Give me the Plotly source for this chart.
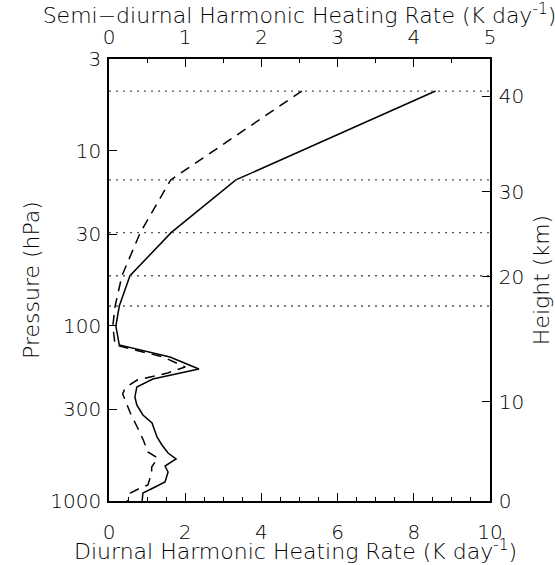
import numpy as np
import plotly.graph_objects as go

# ---------------- data ----------------
# Diurnal harmonic heating rate (K/day), bottom axis
p_diurnal = [4.57, 14.7, 29.4, 51.8, 77.1, 100.3, 128.7, 150.7, 176.4, 201.2, 223.5,
             254.8, 283.1, 322.9, 358.6, 431.1, 478.9, 532.1, 575.8, 631.3, 683.0,
             778.9, 831.8, 900.2, 1000.0]
diurnal = [8.57, 3.33, 1.63, 0.55, 0.27, 0.18, 0.27, 1.60, 2.36, 1.15, 0.73,
           0.68, 0.73, 0.89, 1.13, 1.26, 1.39, 1.55, 1.76, 1.47, 1.55,
           1.47, 1.21, 0.89, 0.87]

# Semi-diurnal harmonic heating rate (K/day), top axis
p_semi = [4.57, 14.7, 29.4, 51.8, 77.1, 100.3, 128.7, 150.7, 171.9, 185.9, 203.9,
          226.4, 245.1, 286.9, 314.5, 378.1, 448.5, 525.2, 568.4, 639.6, 692.1,
          810.3, 842.8, 900.2, 960.9, 1000.0]
semi = [2.53, 0.81, 0.41, 0.17, 0.08, 0.05, 0.08, 0.71, 1.00, 0.77, 0.37,
        0.21, 0.18, 0.24, 0.28, 0.37, 0.45, 0.51, 0.64, 0.56, 0.56,
        0.51, 0.41, 0.28, 0.25, 0.24]

# Reference levels (dotted lines), hPa
ref_levels = [4.57, 14.7, 29.4, 51.8, 77.1]

# Axis ticks
pressure_ticks = [3, 10, 30, 100, 300, 1000]
height_tick_pressures = [1000, 272, 52.6, 17.2, 4.88]
height_tick_labels = ["0", "10", "20", "30", "40"]
bottom_ticks = [0, 2, 4, 6, 8, 10]
top_ticks = [0, 1, 2, 3, 4, 5]

# ---------------- figure ----------------
FONT = "DejaVu Sans"
TXT = "#000000"
tickfont = dict(family=FONT, size=20, color=TXT, weight=200)
titlefont = dict(family=FONT, size=22, color=TXT, weight=200)

fig = go.Figure()

for p in ref_levels:
    fig.add_trace(go.Scatter(x=[0, 10], y=[p, p], mode="lines",
                             line=dict(color="#555555", width=1.3, dash="2px,5px"),
                             xaxis="x", yaxis="y2", showlegend=False, hoverinfo="skip"))

fig.add_trace(go.Scatter(x=diurnal, y=p_diurnal, mode="lines",
                         line=dict(color="black", width=1.5),
                         xaxis="x", yaxis="y", showlegend=False))
fig.add_trace(go.Scatter(x=semi, y=p_semi, mode="lines",
                         line=dict(color="black", width=1.5, dash="10px,7px"),
                         xaxis="x2", yaxis="y", showlegend=False))

yr = [3, float(np.log10(3))]
common = dict(showgrid=False, zeroline=False, showline=True, linecolor="black",
              linewidth=1.5, ticks="inside", ticklen=8, tickwidth=1.2,
              tickcolor="black", tickfont=tickfont)

fig.update_layout(
    width=555, height=565,
    margin=dict(l=109, r=65, t=59, b=64, autoexpand=False),
    paper_bgcolor="white", plot_bgcolor="white",
    xaxis=dict(range=[0, 10], tickvals=bottom_ticks, ticktext=[str(v) for v in bottom_ticks],
               minor=dict(ticks="inside", ticklen=4, tickwidth=1.2, tickcolor="black",
                          dtick=0.5, tick0=0, showgrid=False),
               ticklabelstandoff=12, automargin=False, **common),
    xaxis2=dict(range=[0, 5], overlaying="x", side="top", tickvals=top_ticks,
                ticktext=[str(v) for v in top_ticks],
                minor=dict(ticks="inside", ticklen=4, tickwidth=1.2, tickcolor="black",
                           dtick=0.5, tick0=0, showgrid=False),
                title=dict(text="Semi\u2212diurnal Harmonic Heating Rate (K day<sup>-1</sup>)",
                           font=titlefont, standoff=11),
                ticklabelstandoff=5, automargin=False, **common),
    yaxis=dict(type="log", range=yr, tickvals=pressure_ticks,
               ticktext=[str(v) for v in pressure_ticks],
               title=dict(text="Pressure (hPa)", font=titlefont, standoff=5),
               ticklabelstandoff=2, automargin=False, **common),
    yaxis2=dict(type="log", range=yr, overlaying="y", side="right",
                tickvals=height_tick_pressures, ticktext=height_tick_labels,
                title=dict(text="Height (km)", font=titlefont, standoff=10),
                ticklabelstandoff=3, automargin=False, **common),
    annotations=[dict(text="Diurnal Harmonic Heating Rate (K day<sup>-1</sup>)",
                      xref="paper", yref="paper", x=0.49, y=0, xanchor="center",
                      yanchor="middle", yshift=-49, showarrow=False, font=titlefont)],
)

fig.write_html("out.html")
